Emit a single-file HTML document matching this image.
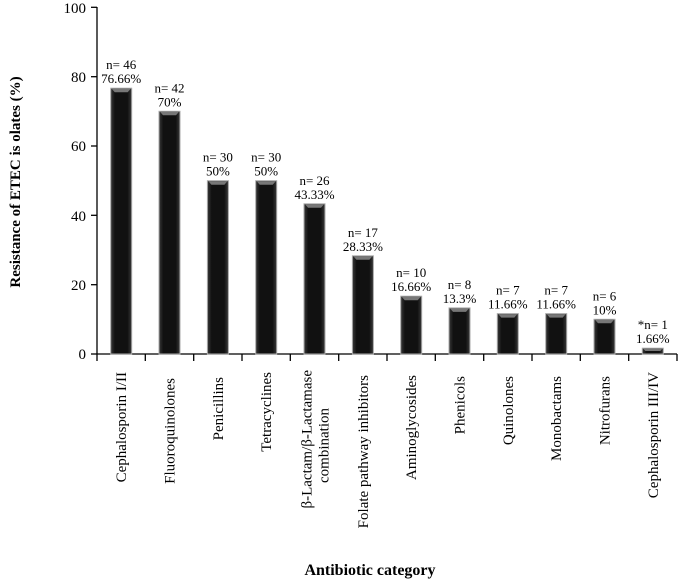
<!DOCTYPE html>
<html><head><meta charset="utf-8"><style>
html,body{margin:0;padding:0;background:#fff;}
svg{display:block;font-family:"Liberation Serif",serif;}
</style></head><body>
<svg width="680" height="580" viewBox="0 0 680 580" xmlns="http://www.w3.org/2000/svg">
<defs>
<linearGradient id="g" x1="0" x2="1" y1="0" y2="0">
<stop offset="0" stop-color="#3a3a3a"/><stop offset="0.2" stop-color="#111"/><stop offset="0.8" stop-color="#111"/><stop offset="1" stop-color="#3a3a3a"/>
</linearGradient>
</defs>
<g stroke="#000" stroke-width="1.3" fill="none">
<line x1="97" y1="7" x2="97" y2="354"/>
<line x1="97" y1="354" x2="677" y2="354"/>
<line x1="91" y1="7.3" x2="97" y2="7.3"/>
<line x1="91" y1="76.7" x2="97" y2="76.7"/>
<line x1="91" y1="146" x2="97" y2="146"/>
<line x1="91" y1="215.3" x2="97" y2="215.3"/>
<line x1="91" y1="284.7" x2="97" y2="284.7"/>
<line x1="91" y1="354" x2="97" y2="354"/>
<line x1="97" y1="354" x2="97" y2="361"/><line x1="145.3" y1="354" x2="145.3" y2="361"/><line x1="193.7" y1="354" x2="193.7" y2="361"/><line x1="242" y1="354" x2="242" y2="361"/><line x1="290.3" y1="354" x2="290.3" y2="361"/><line x1="338.7" y1="354" x2="338.7" y2="361"/><line x1="387" y1="354" x2="387" y2="361"/><line x1="435.3" y1="354" x2="435.3" y2="361"/><line x1="483.7" y1="354" x2="483.7" y2="361"/><line x1="532" y1="354" x2="532" y2="361"/><line x1="580.3" y1="354" x2="580.3" y2="361"/><line x1="628.7" y1="354" x2="628.7" y2="361"/><line x1="677" y1="354" x2="677" y2="361"/>
</g>
<g font-size="15" text-anchor="end" fill="#000">
<text x="86" y="13">100</text><text x="86" y="82">80</text><text x="86" y="151">60</text><text x="86" y="221">40</text><text x="86" y="290">20</text><text x="86" y="359">0</text>
</g>
<text transform="translate(20,182) rotate(-90)" text-anchor="middle" font-weight="bold" font-size="15">Resistance of  ETEC is olates (%)</text>
<text x="370" y="575" text-anchor="middle" font-weight="bold" font-size="16">Antibiotic category</text>

<g fill="url(#g)" stroke="#aaa" stroke-width="1">
<rect x="110.7" y="88.2" width="21" height="265.8"/>
<rect x="159" y="111.3" width="21" height="242.7"/>
<rect x="207.4" y="180.7" width="21" height="173.3"/>
<rect x="255.7" y="180.7" width="21" height="173.3"/>
<rect x="304" y="203.8" width="21" height="150.2"/>
<rect x="352.4" y="255.8" width="21" height="98.2"/>
<rect x="400.7" y="296.2" width="21" height="57.8"/>
<rect x="449" y="307.9" width="21" height="46.1"/>
<rect x="497.3" y="313.6" width="21" height="40.4"/>
<rect x="545.7" y="313.6" width="21" height="40.4"/>
<rect x="594" y="319.3" width="21" height="34.7"/>
<rect x="642.3" y="348.2" width="21" height="5.8"/>
</g>
<g fill="#777">
<polygon points="111.7,88.7 130.7,88.7 127.7,92.2 114.7,92.2"/>
<polygon points="160,111.8 179,111.8 176,115.3 163,115.3"/>
<polygon points="208.4,181.2 227.4,181.2 224.4,184.7 211.4,184.7"/>
<polygon points="256.7,181.2 275.7,181.2 272.7,184.7 259.7,184.7"/>
<polygon points="305,204.3 324,204.3 321,207.8 308,207.8"/>
<polygon points="353.4,256.3 372.4,256.3 369.4,259.8 356.4,259.8"/>
<polygon points="401.7,296.7 420.7,296.7 417.7,300.2 404.7,300.2"/>
<polygon points="450,308.4 469,308.4 466,311.9 453,311.9"/>
<polygon points="498.3,314.1 517.3,314.1 514.3,317.6 501.3,317.6"/>
<polygon points="546.7,314.1 565.7,314.1 562.7,317.6 549.7,317.6"/>
<polygon points="595,319.8 614,319.8 611,323.3 598,323.3"/>
<polygon points="643.3,348.7 662.3,348.7 660.3,351 645.3,351"/>
</g>

<g font-size="13" text-anchor="middle">
<text x="121.2" y="69.2">n= 46</text><text x="121.2" y="83.2">76.66%</text>
<text x="169.5" y="92.3">n= 42</text><text x="169.5" y="106.3">70%</text>
<text x="217.9" y="161.7">n= 30</text><text x="217.9" y="175.7">50%</text>
<text x="266.2" y="161.7">n= 30</text><text x="266.2" y="175.7">50%</text>
<text x="314.5" y="184.8">n= 26</text><text x="314.5" y="198.8">43.33%</text>
<text x="362.9" y="236.8">n= 17</text><text x="362.9" y="250.8">28.33%</text>
<text x="411.2" y="277.2">n= 10</text><text x="411.2" y="291.2">16.66%</text>
<text x="459.5" y="288.9">n= 8</text><text x="459.5" y="302.9">13.3%</text>
<text x="507.8" y="294.6">n= 7</text><text x="507.8" y="308.6">11.66%</text>
<text x="556.2" y="294.6">n= 7</text><text x="556.2" y="308.6">11.66%</text>
<text x="604.5" y="300.3">n= 6</text><text x="604.5" y="314.3">10%</text>
<text x="652.8" y="329.2">*n= 1</text><text x="652.8" y="343.2">1.66%</text>
</g>

<g font-size="15" text-anchor="end">
<text transform="translate(126.2,372) rotate(-90)">Cephalosporin  I/II</text>
<text transform="translate(174.5,378) rotate(-90)">Fluoroquinolones</text>
<text transform="translate(222.9,377) rotate(-90)">Penicillins</text>
<text transform="translate(271.2,372) rotate(-90)">Tetracyclines</text>
<text transform="translate(311.5,370) rotate(-90)">β-Lactam/β-Lactamase</text>
<text transform="translate(328.5,408) rotate(-90)">combination</text>
<text transform="translate(367.9,375) rotate(-90)">Folate pathway inhibitors</text>
<text transform="translate(416.2,375) rotate(-90)">Aminoglycosides</text>
<text transform="translate(464.5,376) rotate(-90)">Phenicols</text>
<text transform="translate(512.8,376) rotate(-90)">Quinolones</text>
<text transform="translate(561.2,376) rotate(-90)">Monobactams</text>
<text transform="translate(609.5,376) rotate(-90)">Nitrofurans</text>
<text transform="translate(657.8,372) rotate(-90)">Cephalosporin  III/IV</text>
</g>
</svg>
</body></html>
